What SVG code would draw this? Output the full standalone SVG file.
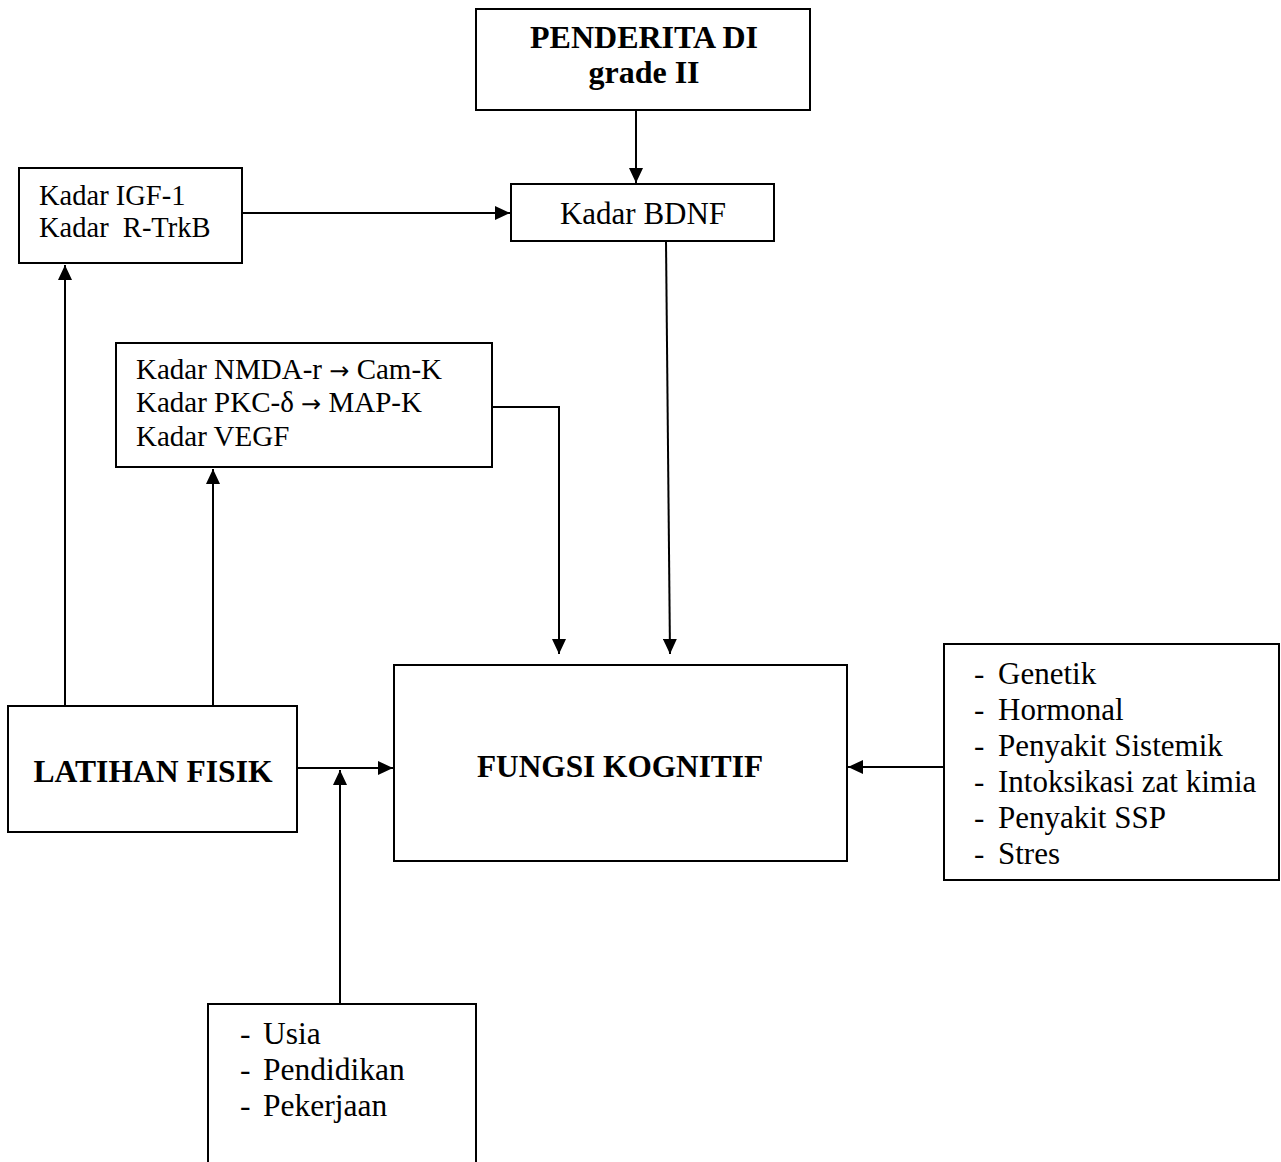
<svg xmlns="http://www.w3.org/2000/svg" width="1281" height="1162" viewBox="0 0 1281 1162">
<style>
.box{fill:#fff;stroke:#000;stroke-width:2}
.t{font-family:"Liberation Serif","Times New Roman",serif;fill:#000}
.b{font-weight:bold}
.ar{font-family:"DejaVu Sans",sans-serif;font-size:24px}
.c{stroke:#000;stroke-width:2;fill:none;marker-end:url(#ah)}
</style>
<defs>
<marker id="ah" markerUnits="userSpaceOnUse" markerWidth="16" markerHeight="14" refX="15" refY="7" orient="auto">
<path d="M0,0 L15,7 L0,14 Z" fill="#000"/>
</marker>
</defs>
<rect width="1281" height="1162" fill="#fff"/>
<g id="connectors">
<line class="c" x1="636" y1="110" x2="636" y2="183"/>
<line class="c" x1="242" y1="213" x2="510" y2="213"/>
<polyline class="c" points="492,407 559,407 559,654"/>
<line class="c" x1="666" y1="241" x2="670" y2="654"/>
<line class="c" x1="65" y1="706" x2="65" y2="265"/>
<line class="c" x1="213" y1="706" x2="213" y2="469"/>
<line class="c" x1="297" y1="768" x2="393" y2="768"/>
<line class="c" x1="340" y1="1004" x2="340" y2="770"/>
<line class="c" x1="944" y1="767" x2="848" y2="767"/>
</g>
<g id="penderita">
<rect class="box" x="476" y="9" width="334" height="101"/>
<text class="t b" x="644" y="48" font-size="32" text-anchor="middle">PENDERITA DI</text>
<text class="t b" x="644" y="83" font-size="32" text-anchor="middle">grade II</text>
</g>
<g id="bdnf">
<rect class="box" x="511" y="184" width="263" height="57"/>
<text class="t" x="643" y="224" font-size="31" text-anchor="middle">Kadar BDNF</text>
</g>
<g id="igf">
<rect class="box" x="19" y="168" width="223" height="95"/>
<text class="t" x="39" y="205" font-size="28.5">Kadar IGF-1</text>
<text class="t" x="39" y="237" font-size="28.5" xml:space="preserve">Kadar  R-TrkB</text>
</g>
<g id="nmda">
<rect class="box" x="116" y="343" width="376" height="124"/>
<text class="t" x="136" y="379" font-size="29">Kadar NMDA-r <tspan class="ar">→</tspan> Cam-K</text>
<text class="t" x="136" y="412" font-size="29">Kadar PKC-δ <tspan class="ar">→</tspan> MAP-K</text>
<text class="t" x="136" y="446" font-size="29">Kadar VEGF</text>
</g>
<g id="fungsi">
<rect class="box" x="394" y="665" width="453" height="196"/>
<text class="t b" x="620" y="777" font-size="31.3" text-anchor="middle">FUNGSI KOGNITIF</text>
</g>
<g id="latihan">
<rect class="box" x="8" y="706" width="289" height="126"/>
<text class="t b" x="153" y="782" font-size="31.6" text-anchor="middle">LATIHAN FISIK</text>
</g>
<g id="faktor">
<rect class="box" x="944" y="644" width="335" height="236"/>
<g class="t" font-size="31">
<text x="974" y="684">-</text><text x="998" y="684">Genetik</text>
<text x="974" y="720">-</text><text x="998" y="720">Hormonal</text>
<text x="974" y="756">-</text><text x="998" y="756">Penyakit Sistemik</text>
<text x="974" y="792">-</text><text x="998" y="792">Intoksikasi zat kimia</text>
<text x="974" y="828">-</text><text x="998" y="828">Penyakit SSP</text>
<text x="974" y="864">-</text><text x="998" y="864">Stres</text>
</g>
</g>
<g id="demografi">
<path class="box" d="M208,1164 L208,1004 L476,1004 L476,1164"/>
<g class="t" font-size="31.5">
<text x="240" y="1044">-</text><text x="263" y="1044">Usia</text>
<text x="240" y="1080">-</text><text x="263" y="1080">Pendidikan</text>
<text x="240" y="1116">-</text><text x="263" y="1116">Pekerjaan</text>
</g>
</g>
</svg>
